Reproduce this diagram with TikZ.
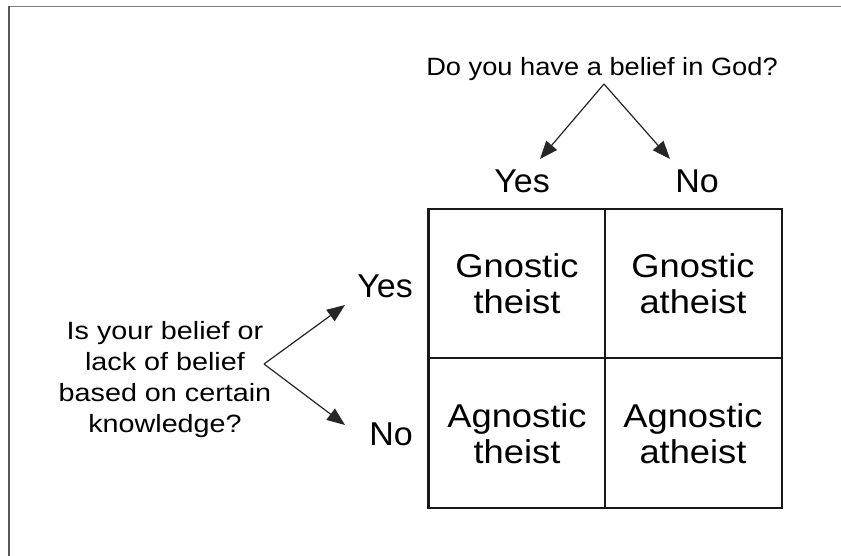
\documentclass[tikz,border=0pt]{standalone}
\usepackage{fontspec}
\setmainfont{Liberation Sans}
\newfontfamily\qfont{Liberation Sans}[FakeStretch=1.09]
\newfontfamily\lfont{Liberation Sans}[FakeStretch=1.15]
\newfontfamily\afont{Liberation Sans}[FakeStretch=1.03]
\newfontfamily\bfont{Liberation Sans}[FakeStretch=1.1]
\usetikzlibrary{arrows.meta}
\begin{document}
\begin{tikzpicture}[x=1pt,y=-1pt,
  question/.style={inner sep=0pt, align=center, font=\qfont\fontsize{25}{31}\selectfont},
  lquestion/.style={inner sep=0pt, align=center, font=\lfont\fontsize{25}{31}\selectfont},
  answer/.style={inner sep=0pt, font=\afont\fontsize{33}{37}\selectfont},
  cell/.style={inner sep=0pt, align=center, font=\bfont\fontsize{33}{36}\selectfont},
  arr/.style={draw=black!85, line width=1.2pt, -{Triangle[length=18pt,width=14pt]}},
  grid/.style={draw=black!90, line width=2.4pt}
]
\useasboundingbox (0,0) rectangle (841,556);
% frame
\draw[draw=black!50, line width=1.6pt] (8.5,6.5) -- (841,6.5);
\draw[draw=black!65, line width=2pt] (8.5,6) -- (8.5,556);

% grid
\draw[grid] (428.5,209) rectangle (782,508);
\draw[grid] (605,209) -- (605,508);
\draw[grid] (428.5,358) -- (782,358);

% top question
\node[question, anchor=base] (qtop) at (602,76) {Do you have a belief in God?};
\coordinate (apexT) at (604,84);
\node[answer, anchor=base] (yesT) at (522,193) {Yes};
\node[answer, anchor=base] (noT) at (697,193) {No};
\coordinate (tipTY) at (540,159);
\coordinate (tipTN) at (670,159);
\draw[arr] (apexT) -- (tipTY);
\draw[arr] (apexT) -- (tipTN);

% left question
\node[lquestion] (qleft) at (165,380) {Is your belief or\\lack of belief\\based on certain\\knowledge?};
\coordinate (apexL) at (264,364);
\node[answer, anchor=base east] (yesL) at (413,298) {Yes};
\node[answer, anchor=base east] (noL) at (413,445) {No};
\coordinate (tipLY) at (345,305);
\coordinate (tipLN) at (345,425);
\draw[arr] (apexL) -- (tipLY);
\draw[arr] (apexL) -- (tipLN);

% cells
\node[cell] (gt) at (517,284) {Gnostic\\theist};
\node[cell] (ga) at (693,284) {Gnostic\\atheist};
\node[cell] (at) at (517,434) {Agnostic\\theist};
\node[cell] (aa) at (693,434) {Agnostic\\atheist};
\end{tikzpicture}
\end{document}
